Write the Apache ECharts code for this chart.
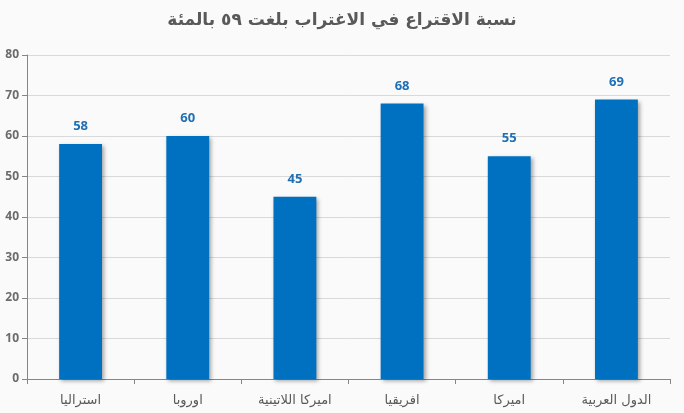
<!DOCTYPE html>
<html>
<head>
<meta charset="utf-8">
<script src="https://cdn.jsdelivr.net/npm/echarts@6/dist/echarts.min.js"></script>
<style>
  html, body { margin: 0; padding: 0; background: #fafafa; }
  #chart { width: 684px; height: 413px; }
</style>
</head>
<body>
<div id="chart"></div>
<script>
var regions = ['استراليا', 'اوروبا', 'اميركا اللاتينية', 'افريقيا', 'اميركا', 'الدول العربية'];
var turnout = [58, 60, 45, 68, 55, 69];
var chartTitle = 'نسبة الاقتراع في الاغتراب بلغت ٥٩ بالمئة';

var myChart = echarts.init(document.getElementById('chart'));
var option = {
    backgroundColor: '#fafafa',
    title: {
        text: chartTitle,
        left: 'center',
        top: 7,
        textStyle: { color: '#595959', fontSize: 17, fontWeight: 'bold', fontFamily: 'DejaVu Sans' }
    },
    grid: { left: 27, right: 14, top: 55, bottom: 34 },
    xAxis: {
        type: 'category',
        data: regions,
        axisLine: { lineStyle: { color: '#868686' } },
        axisTick: { show: true, length: 5, lineStyle: { color: '#868686' } },
        axisLabel: { color: '#595959', fontSize: 13, margin: 15, fontFamily: 'DejaVu Sans' }
    },
    yAxis: {
        type: 'value',
        min: 0,
        max: 80,
        interval: 10,
        axisLine: { show: true, lineStyle: { color: '#868686' } },
        axisTick: { show: true, length: 5, lineStyle: { color: '#868686' } },
        axisLabel: { color: '#6b6b6b', fontSize: 12, margin: 8, fontWeight: 'bold', fontFamily: 'Open Sans' },
        splitLine: { lineStyle: { color: '#d9d9d9' } }
    },
    series: [{
        name: 'turnout',
        type: 'bar',
        data: turnout,
        barWidth: '40%',
        itemStyle: {
            color: '#0070c0',
            shadowColor: 'rgba(0,0,0,0.35)',
            shadowBlur: 4,
            shadowOffsetX: 2,
            shadowOffsetY: 2
        },
        label: {
            show: true,
            position: 'top',
            distance: 11,
            color: '#1f6fb5',
            fontWeight: 'bold',
            fontSize: 13,
            fontFamily: 'Open Sans'
        }
    }]
};
myChart.setOption(option);
</script>
</body>
</html>
